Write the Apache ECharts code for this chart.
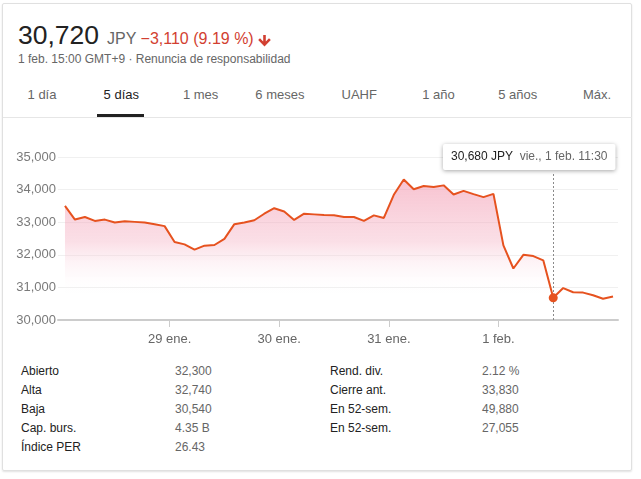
<!DOCTYPE html>
<html><head><meta charset="utf-8">
<script src="https://cdn.jsdelivr.net/npm/echarts@6/dist/echarts.min.js"></script>
<style>
html,body{margin:0;padding:0;background:#fff;}
body{width:641px;height:479px;position:relative;overflow:hidden;font-family:"Liberation Sans",Arial,sans-serif;}
.card{position:absolute;left:2px;top:3px;width:630px;height:468px;border:1px solid #e0e0e0;border-radius:2px;box-shadow:0 1px 2px rgba(0,0,0,0.12);box-sizing:border-box;}
.abs{position:absolute;white-space:nowrap;}
.tab{position:absolute;top:87px;font-size:13px;color:#666;line-height:16px;transform:translateX(-50%);}
.tab.active{color:#222;}
.sep{position:absolute;left:3px;width:629px;top:117px;height:1px;background:#e6e6e6;}
.ul{position:absolute;left:97px;top:114px;width:47px;height:3px;background:#222;}
.st{position:absolute;font-size:12px;line-height:14px;}
.lab{color:#222;}
.val{color:#666;}
#chart{position:absolute;left:0;top:120px;width:641px;height:230px;}
</style></head>
<body>
<div class="card"></div>
<div class="abs" style="left:18px;top:20px;line-height:30px;">
  <span style="font-size:26.5px;color:#222;">30,720</span><span style="font-size:16px;color:#666;margin-left:8px;">JPY</span><span style="font-size:16px;color:#d23f31;"> −3,110 (9.19 %)</span>
</div>
<svg class="abs" style="left:258px;top:35px;" width="13" height="12" viewBox="0 0 13 12"><path d="M5.2 0h2.6v6.5l3.2-3.2 1.8 1.8-6.3 6.4-6.3-6.4 1.8-1.8 3.2 3.2z" fill="#d23f31"/></svg>
<div class="abs" style="left:18px;top:52px;font-size:12px;line-height:14px;color:#666;">1 feb. 15:00 GMT+9 · Renuncia de responsabilidad</div>
<div id="tabs"></div>
<div class="sep"></div>
<div class="ul"></div>
<div id="chart"></div>
<div id="stats"></div>
<script>
// ---- data ----
var tabLabels = ['1 día','5 días','1 mes','6 meses','UAHF','1 año','5 años','Máx.'];
var activeTab = 1;
var dayLabels = ['29 ene.','30 ene.','31 ene.','1 feb.'];
var dayBoundaries = [10.5, 21.5, 32.5, 43.5];
var prices = [
  33500,33080,33160,33040,33080,32990,33030,33010,32990,32940,32880,
  32390,32320,32160,32280,32300,32490,32940,32990,33060,33260,33430,
  33330,33070,33260,33240,33220,33210,33160,33160,33040,33210,33130,
  33840,34310,34010,34110,34080,34130,33850,33960,33860,33770,33870,
  32290,31580,32000,31960,31830,30680,30980,30850,30840,30760,30650,30720
];
var yTicks = [30000,31000,32000,33000,34000,35000];
var tipIndex = 49;
var tipTime = 'vie., 1 feb. 11:30';
var statsLeft = [['Abierto','32,300'],['Alta','32,740'],['Baja','30,540'],['Cap. burs.','4.35 B'],['Índice PER','26.43']];
var statsRight = [['Rend. div.','2.12 %'],['Cierre ant.','33,830'],['En 52-sem.','49,880'],['En 52-sem.','27,055']];

// ---- header tabs ----
var tabsEl = document.getElementById('tabs');
tabLabels.forEach(function(t,i){
  var d = document.createElement('div');
  d.className = 'tab' + (i===activeTab?' active':'');
  d.style.left = (42 + i*79.3) + 'px';
  d.textContent = t;
  tabsEl.appendChild(d);
});
// ---- stats ----
var statsEl = document.getElementById('stats');
function addStat(txt, cls, x, y){
  var d = document.createElement('div');
  d.className = 'st ' + cls; d.style.left = x+'px'; d.style.top = y+'px'; d.textContent = txt;
  statsEl.appendChild(d);
}
statsLeft.forEach(function(r,i){ addStat(r[0],'lab',21,364+i*19); addStat(r[1],'val',175,364+i*19); });
statsRight.forEach(function(r,i){ addStat(r[0],'lab',330,364+i*19); addStat(r[1],'val',482,364+i*19); });

// ---- chart ----
var fmt = function(v){ return v.toLocaleString('en-US'); };
var seriesData = prices.map(function(p,i){ return [i,p]; });
var lineColor = '#e6521f';
var chart = echarts.init(document.getElementById('chart'), null, {renderer:'canvas'});
chart.setOption({
  animation:false,
  grid:{left:58,right:23,top:37,bottom:30},
  xAxis:{
    type:'value', min:-0.7, max:55.5,
    splitLine:{show:false},
    axisLine:{lineStyle:{color:'#cccccc',width:2}},
    axisTick:{customValues:dayBoundaries,length:7,lineStyle:{color:'#cccccc',width:1}},
    axisLabel:{customValues:dayBoundaries,margin:13,color:'#666',fontSize:13,fontFamily:'Liberation Sans, Arial',
      formatter:function(v){ var k = dayBoundaries.indexOf(v); return k>=0?dayLabels[k]:''; }}
  },
  yAxis:{
    type:'value', min:yTicks[0], max:yTicks[yTicks.length-1], interval:1000,
    axisLine:{show:false}, axisTick:{show:false},
    splitLine:{lineStyle:{color:'#f0f0f0',width:1}},
    axisLabel:{margin:2,color:'#7a7a7a',fontSize:13,fontFamily:'Liberation Sans, Arial',formatter:fmt}
  },
  series:[{
    type:'line', data:seriesData, showSymbol:false, symbol:'none',
    lineStyle:{color:lineColor,width:2},
    areaStyle:{origin:'start',color:new echarts.graphic.LinearGradient(0,0,0,1,[
      {offset:0,color:'rgba(240,135,162,0.72)'},
      {offset:0.45,color:'rgba(245,180,198,0.6)'},
      {offset:0.82,color:'rgba(255,255,255,0)'},
      {offset:1,color:'rgba(255,255,255,0)'}])},
    markLine:{silent:true,symbol:'none',label:{show:false},
      lineStyle:{color:'#8a8a8a',type:[2,2],width:1},
      data:[[{coord:[tipIndex,yTicks[0]]},{coord:[tipIndex,34540]}]]},
    markPoint:{silent:true,data:[
      {coord:[tipIndex,prices[tipIndex]],symbol:'circle',symbolSize:9,itemStyle:{color:lineColor},label:{show:false}},
      {coord:[tipIndex,yTicks[yTicks.length-1]],symbol:'rect',symbolSize:0,
        label:{show:true,position:'inside',offset:[-24,0],
          formatter:'{a|'+fmt(prices[tipIndex])+' JPY}  {b|'+tipTime+'}',
          backgroundColor:'#fff',padding:[7,8,7,8],borderRadius:2,
          shadowBlur:4,shadowColor:'rgba(0,0,0,0.35)',shadowOffsetY:1,
          rich:{a:{fontSize:12,color:'#222',fontFamily:'Liberation Sans, Arial'},b:{fontSize:12,color:'#666',fontFamily:'Liberation Sans, Arial'}}}}
    ]}
  }]
});
</script>
</body></html>
